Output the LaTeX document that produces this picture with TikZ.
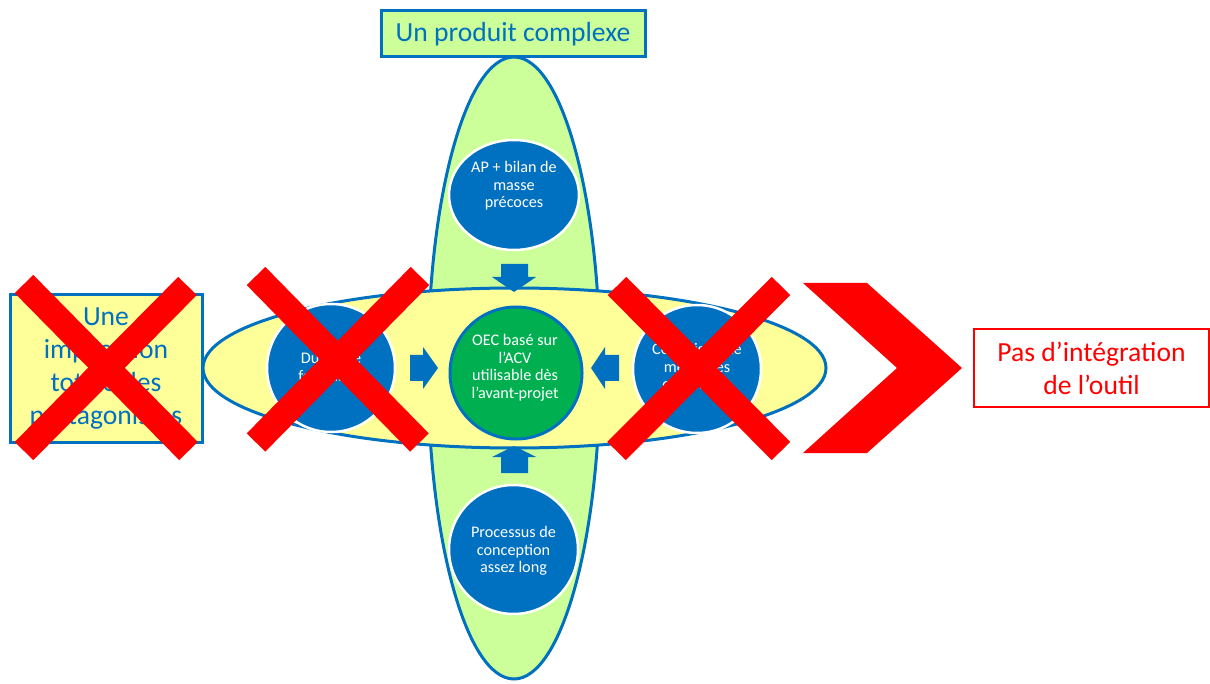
\documentclass[tikz,border=0pt]{standalone}
\usepackage{fontspec}
\setmainfont{Carlito}
\usetikzlibrary{shapes.geometric}
\definecolor{pblue}{HTML}{0070C0}
\definecolor{lgreen}{HTML}{CCFF99}
\definecolor{lyellow}{HTML}{FFFF99}
\definecolor{dgreen}{HTML}{00B050}
\begin{document}
\begin{tikzpicture}[x=1pt,y=-1pt,
  bigtext/.style={font=\fontsize{27.6}{33}\selectfont, align=center},
  smalltext/.style={font=\fontsize{16.2}{17.5}\selectfont, align=center, text=white, inner sep=0pt},
  bluecirc/.style={circle, fill=pblue, draw=white, line width=2.5pt, minimum size=128pt, inner sep=0pt},
  outl/.style={draw=pblue, line width=3pt},
  crossbar/.style={draw=red, line width=26pt},
  blockarrow/.style={fill=pblue}]
\useasboundingbox (0,0) rectangle (1210,684);

% large ellipses
\node[ellipse, outl, fill=lgreen, minimum width=172pt, minimum height=622pt, inner sep=0pt] (vert) at (514,368) {};
\node[ellipse, outl, fill=lyellow, minimum width=623pt, minimum height=160pt, inner sep=0pt] (horiz) at (514.5,368) {};

% block arrows
\path[blockarrow] (501,264) -- (528,264) -- (528,277) -- (536,277) -- (514,292) -- (492,277) -- (501,277) -- cycle;
\path[blockarrow] (501,473) -- (528,473) -- (528,457) -- (536,457) -- (514,446) -- (492,457) -- (501,457) -- cycle;
\path[blockarrow] (410,355) -- (423,355) -- (423,347) -- (438,368) -- (423,389) -- (423,381) -- (410,381) -- cycle;
\path[blockarrow] (619,355) -- (605,355) -- (605,347) -- (591,368) -- (605,389) -- (605,381) -- (619,381) -- cycle;

% circles
\node[bluecirc, ellipse, minimum width=130pt, minimum height=110pt] (topc) at (514,195) {};
\node[smalltext] (topt) at (514,186) {AP + bilan de\\masse\\précoces};
\node[bluecirc, minimum size=129pt] (botc) at (513.5,549.5) {};
\node[smalltext] (bott) at (513.5,551) {Processus de\\conception\\assez long};
\node[bluecirc] (leftc) at (331,368) {};
\node[smalltext] (leftt) at (331,367) {Durée de\\formation};
\node[bluecirc] (rightc) at (697,369) {};
\node[smalltext] (rightt) at (697,368) {Connaissance\\méthodes\\complexes};
\node[circle, outl, fill=dgreen, minimum size=132pt, inner sep=0pt] (centc) at (516,373) {};
\node[smalltext] (centt) at (515,368) {OEC basé sur\\l’ACV\\utilisable dès\\l’avant-projet};

% boxes
\node[rectangle, outl, fill=lgreen, minimum width=264pt, minimum height=46pt, inner sep=0pt, bigtext, text=pblue] (topbox) at (513,34) {Un produit complexe};
\node[rectangle, outl, fill=lyellow, minimum width=192pt, minimum height=147pt, inner sep=0pt, bigtext, text=pblue] (leftbox) at (106,368.5) {Une\\implication\\totale des\\protagonistes};
\node[rectangle, draw=red, line width=1.5pt, fill=white, minimum width=235pt, minimum height=78pt, inner sep=0pt, bigtext, text=red] (rightbox) at (1091.5,368) {Pas d’intégration\\de l’outil};

% chevron
\path[fill=red] (803,283) -- (867,283) -- (962,368) -- (867,453) -- (803,453) -- (897,368) -- cycle;

% crosses
\draw[crossbar] (24,284) -- (188.5,451);
\draw[crossbar] (187.5,286) -- (24,451);
\draw[crossbar] (256,276) -- (419.5,442.5);
\draw[crossbar] (420,276) -- (256,442.5);
\draw[crossbar] (617,286) -- (781,451);
\draw[crossbar] (781,286) -- (616.5,451);
\end{tikzpicture}
\end{document}
